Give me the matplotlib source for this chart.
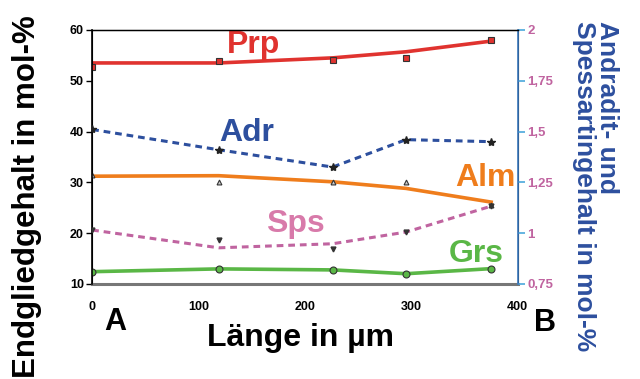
import matplotlib
matplotlib.use("Agg")
from matplotlib import pyplot as plt

plt.rcParams['font.family'] = ['Liberation Sans', 'DejaVu Sans']
plt.rcParams['font.weight'] = 'bold'

# position along profile A-B (µm)
x_pos = [0, 119, 226, 295, 375]

# left axis, mol-%
prp_pts = [52.8, 53.9, 54.1, 54.5, 58.0]
prp_fit = [53.5, 53.5, 54.5, 55.7, 57.8]
alm_pts = [31.5, 30.1, 30.1, 30.1, 25.6]
alm_fit = [31.2, 31.3, 30.1, 28.8, 26.1]
grs_pts = [12.4, 12.95, 12.75, 12.0, 13.0]

# right axis, mol-%
adr_pts = [1.51, 1.41, 1.325, 1.46, 1.45]
sps_pts = [1.015, 0.9675, 0.9225, 1.005, 1.135]
sps_fit = [1.015, 0.9275, 0.9475, 1.005, 1.1325]

left_ticks = [10, 20, 30, 40, 50, 60]
right_ticks = [0.75, 1, 1.25, 1.5, 1.75, 2]
right_labels = ['0,75', '1', '1,25', '1,5', '1,75', '2']
x_ticks = [0, 100, 200, 300, 400]

red = '#e0332f'
orange = '#ef7d1c'
green = '#5ab746'
blue = '#2d4f9e'
pink = '#c064a0'

fig = plt.figure(figsize=(6.4, 3.79), dpi=100)
ax = fig.add_axes([0.144, 0.251, 0.665, 0.670])
ax2 = ax.twinx()

# solid fits + markers
ax.plot(x_pos, prp_fit, color=red, lw=2.6, zorder=2)
ax.plot(x_pos, prp_pts, ls='none', marker='s', ms=4, mfc=red, mec='#333333', mew=0.8, zorder=3)
ax.plot(x_pos, alm_fit, color=orange, lw=2.6, zorder=2)
ax.plot(x_pos, alm_pts, ls='none', marker='^', ms=3.5, mfc='#cccccc', mec='#333333', mew=0.8, zorder=3)
ax.plot(x_pos, grs_pts, color=green, lw=2.6, marker='o', ms=5, mfc=green, mec='#333333', mew=0.8, zorder=3)

# dashed on right axis
ax2.plot(x_pos, adr_pts, color=blue, lw=2.2, ls=(0, (2.2, 1.6)), zorder=2)
ax2.plot(x_pos, adr_pts, ls='none', marker='*', ms=6, mfc='#222222', mec='#222222', zorder=3)
ax2.plot(x_pos, sps_fit, color=pink, lw=2.2, ls=(0, (2.2, 1.6)), zorder=2)
ax2.plot(x_pos, sps_pts, ls='none', marker='v', ms=3.5, mfc='#333333', mec='#333333', zorder=3)

ax.set_xlim(0, 400)
ax.set_ylim(10, 60)
ax2.set_ylim(0.75, 2)
ax.set_xticks(x_ticks)
ax.set_yticks(left_ticks)
ax2.set_yticks(right_ticks)
ax2.set_yticklabels(right_labels)

ax.tick_params(axis='y', labelsize=9, length=4, width=1, pad=2)
ax.tick_params(axis='x', labelsize=9, length=0, pad=12)
ax2.tick_params(axis='y', labelsize=9.5, length=5, width=1.2, color='#4aa8dc',
                labelcolor=pink, pad=2)
for lab in ax.get_xticklabels() + ax.get_yticklabels() + ax2.get_yticklabels():
    lab.set_fontweight('bold')

ax.spines['bottom'].set_color('#777777')
ax.spines['bottom'].set_linewidth(2.2)
ax2.spines['bottom'].set_visible(False)
ax2.spines['right'].set_color('#3b79be')
ax2.spines['right'].set_linewidth(1.2)
ax2.spines['left'].set_linewidth(1.2)
ax2.spines['top'].set_linewidth(1.0)

# series labels
ax.text(127, 55.5, 'Prp', color=red, fontsize=23, fontweight='bold')
ax.text(119, 38.1, 'Adr', color=blue, fontsize=23, fontweight='bold')
ax.text(341, 29.3, 'Alm', color=orange, fontsize=23, fontweight='bold')
ax.text(163, 20.2, 'Sps', color='#d87aaa', fontsize=23, fontweight='bold')
ax.text(335, 14.3, 'Grs', color=green, fontsize=23, fontweight='bold')

fig.text(0.180, 0.150, 'A', fontsize=22, fontweight='bold', ha='center', va='center')
fig.text(0.852, 0.147, 'B', fontsize=22, fontweight='bold', ha='center', va='center')
fig.text(0.470, 0.108, 'Länge in µm', fontsize=23, fontweight='bold', ha='center', va='center')
fig.text(0.042, 0.480, 'Endgliedgehalt in mol-%', fontsize=22.5, fontweight='bold',
         rotation=90, ha='center', va='center')
fig.text(0.930, 0.945, 'Andradit- und\nSpessartingehalt in mol-%', fontsize=19,
         fontweight='bold', color=blue, rotation=-90, ha='center', va='top',
         linespacing=0.95, multialignment='left')

fig.savefig('out.png', dpi=100)
